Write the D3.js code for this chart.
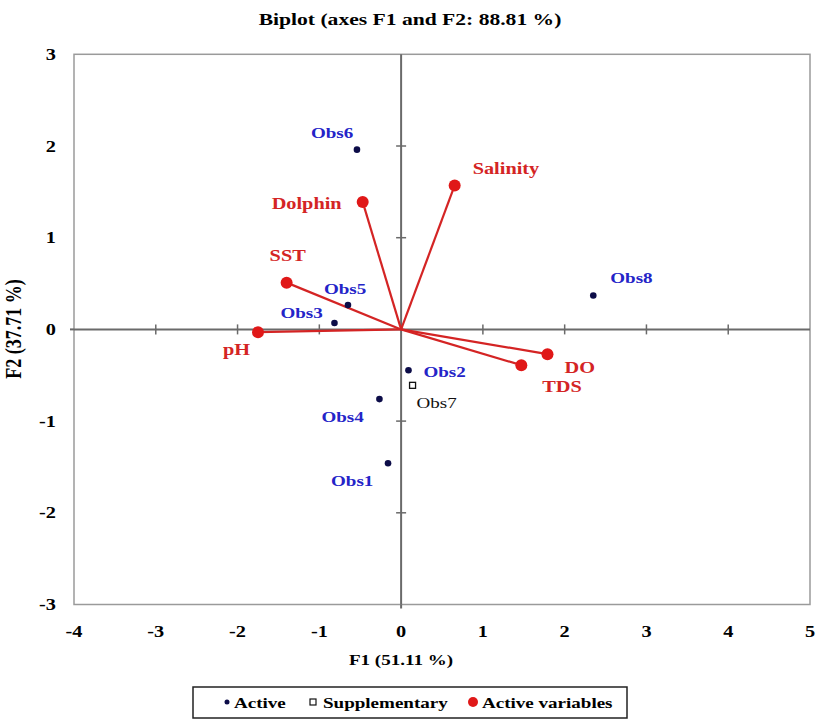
<!DOCTYPE html>
<html>
<head>
<meta charset="utf-8">
<script src="https://cdn.jsdelivr.net/npm/d3@7/dist/d3.min.js"></script>
<style>
  html, body { margin: 0; padding: 0; background: #fff; }
  svg { display: block; }
  text { font-family: "Liberation Serif", "Times New Roman", serif; }
</style>
</head>
<body>
<svg id="chart" width="819" height="720"></svg>
<script>
// ---- Data ----
const obsNames = ["Obs1", "Obs2", "Obs3", "Obs4", "Obs5", "Obs6", "Obs8"];
const obsF1    = [-0.16, 0.09, -0.815, -0.265, -0.65, -0.54, 2.35];
const obsF2    = [-1.46, -0.445, 0.07, -0.76, 0.265, 1.96, 0.37];

const suppNames = ["Obs7"];
const suppF1    = [0.14];
const suppF2    = [-0.61];

const varNames = ["Salinity", "Dolphin", "SST", "pH", "DO", "TDS"];
const varF1    = [0.655, -0.47, -1.40, -1.75, 1.79, 1.47];
const varF2    = [1.57, 1.39, 0.51, -0.03, -0.27, -0.39];

const xTickValues = [-4, -3, -2, -1, 0, 1, 2, 3, 4, 5];
const yTickValues = [-3, -2, -1, 0, 1, 2, 3];

const titleText = "Biplot (axes F1 and F2: 88.81 %)";
const xAxisTitle = "F1 (51.11 %)";
const yAxisTitle = "F2 (37.71 %)";
const legendLabels = ["Active", "Supplementary", "Active variables"];

// ---- Layout (label offsets in px, not data) ----
const obsLabelOffset = {
  Obs1: [-57, 23], Obs2: [15, 7], Obs3: [-54, -5], Obs4: [-58, 23],
  Obs5: [-24, -11], Obs6: [-46, -12], Obs8: [17, -12]
};
const suppLabelOffset = { Obs7: [4, 23] };
const varLabelOffset = {
  Salinity: [18, -11], Dolphin: [-91, 7], SST: [-17, -22],
  pH: [-35, 23], DO: [17, 19], TDS: [21, 27]
};

const STRETCH = 1.27;
const BLUE = "#2424c8", RED = "#d42424", NAVY = "#0c0c48", AXIS = "#6a6a6a", FRAME = "#9a9a9a";

const svg = d3.select("#chart");
const x = d3.scaleLinear().domain([-4, 5]).range([74, 810]);
const y = d3.scaleLinear().domain([-3, 3]).range([604.5, 54.3]);

function sText(parent, px, py, str, opts = {}) {
  return parent.append("text")
    .attr("transform", `translate(${px},${py}) scale(${STRETCH},1)` + (opts.rotate ? ` rotate(${opts.rotate})` : ""))
    .attr("text-anchor", opts.anchor || "start")
    .attr("font-size", opts.size || 15)
    .attr("font-weight", opts.weight || "bold")
    .attr("fill", opts.fill || "#000")
    .text(str);
}

// Frame
svg.append("rect")
  .attr("x", x(-4)).attr("y", y(3))
  .attr("width", x(5) - x(-4)).attr("height", y(-3) - y(3))
  .attr("fill", "none").attr("stroke", FRAME).attr("stroke-width", 1.5);

// Zero axes
svg.append("line").attr("x1", x(-4)).attr("x2", x(5)).attr("y1", y(0)).attr("y2", y(0))
  .attr("stroke", AXIS).attr("stroke-width", 2);
svg.append("line").attr("x1", x(0)).attr("x2", x(0)).attr("y1", y(3)).attr("y2", y(-3))
  .attr("stroke", AXIS).attr("stroke-width", 2);

// Cross ticks on zero axes
svg.append("g").selectAll("line")
  .data(xTickValues.filter(v => v > -4 && v < 5 && v !== 0))
  .join("line")
  .attr("x1", d => x(d)).attr("x2", d => x(d))
  .attr("y1", y(0) - 5).attr("y2", y(0) + 5)
  .attr("stroke", AXIS).attr("stroke-width", 1.5);
svg.append("g").selectAll("line")
  .data(yTickValues.filter(v => v > -3 && v < 3 && v !== 0))
  .join("line")
  .attr("y1", d => y(d)).attr("y2", d => y(d))
  .attr("x1", x(0) - 5).attr("x2", x(0) + 5)
  .attr("stroke", AXIS).attr("stroke-width", 1.5);
svg.append("line").attr("x1", x(-4) - 4).attr("x2", x(-4)).attr("y1", y(0)).attr("y2", y(0)).attr("stroke", AXIS).attr("stroke-width", 2);
svg.append("line").attr("x1", x(0)).attr("x2", x(0)).attr("y1", y(-3)).attr("y2", y(-3) + 4).attr("stroke", AXIS).attr("stroke-width", 2);

// Tick labels
const tl = svg.append("g");
xTickValues.forEach(v => sText(tl, x(v), 637, String(v), { anchor: "middle", size: 16 }));
yTickValues.forEach(v => sText(tl, 56, y(v) + 5.5, String(v), { anchor: "end", size: 16 }));

// Titles
sText(svg, 410, 25, titleText, { anchor: "middle", size: 17 });
sText(svg, 401, 665, xAxisTitle, { anchor: "middle", size: 15 });
sText(svg, 21, 329, yAxisTitle, { anchor: "middle", size: 18, rotate: -90 });

// Variable vectors
const vars = varNames.map((n, i) => ({ name: n, f1: varF1[i], f2: varF2[i] }));
svg.append("g").selectAll("line").data(vars).join("line")
  .attr("x1", x(0)).attr("y1", y(0))
  .attr("x2", d => x(d.f1)).attr("y2", d => y(d.f2))
  .attr("stroke", RED).attr("stroke-width", 2.2);
svg.append("g").selectAll("circle").data(vars).join("circle")
  .attr("cx", d => x(d.f1)).attr("cy", d => y(d.f2)).attr("r", 6)
  .attr("fill", "#e01818");
const vl = svg.append("g");
vars.forEach(d => {
  const o = varLabelOffset[d.name];
  sText(vl, x(d.f1) + o[0], y(d.f2) + o[1], d.name, { size: 16, fill: RED });
});

// Active observations
const obs = obsNames.map((n, i) => ({ name: n, f1: obsF1[i], f2: obsF2[i] }));
svg.append("g").selectAll("circle").data(obs).join("circle")
  .attr("cx", d => x(d.f1)).attr("cy", d => y(d.f2)).attr("r", 3.3)
  .attr("fill", NAVY);
const ol = svg.append("g");
obs.forEach(d => {
  const o = obsLabelOffset[d.name];
  sText(ol, x(d.f1) + o[0], y(d.f2) + o[1], d.name, { size: 15, fill: BLUE });
});

// Supplementary observations
const supp = suppNames.map((n, i) => ({ name: n, f1: suppF1[i], f2: suppF2[i] }));
svg.append("g").selectAll("rect").data(supp).join("rect")
  .attr("x", d => x(d.f1) - 3).attr("y", d => y(d.f2) - 3)
  .attr("width", 6).attr("height", 6)
  .attr("fill", "#fff").attr("stroke", "#111").attr("stroke-width", 1.3);
const sl = svg.append("g");
supp.forEach(d => {
  const o = suppLabelOffset[d.name];
  sText(sl, x(d.f1) + o[0], y(d.f2) + o[1], d.name, { size: 15, weight: "normal", fill: "#111" });
});

// Legend
const lg = svg.append("g");
lg.append("rect").attr("x", 193).attr("y", 687).attr("width", 434).attr("height", 31)
  .attr("fill", "#fff").attr("stroke", "#222").attr("stroke-width", 1.5);
lg.append("circle").attr("cx", 227).attr("cy", 702).attr("r", 2.5).attr("fill", NAVY);
sText(lg, 234, 708, legendLabels[0], { size: 15 });
lg.append("rect").attr("x", 310).attr("y", 699).attr("width", 6).attr("height", 6)
  .attr("fill", "#fff").attr("stroke", "#111").attr("stroke-width", 1.2);
sText(lg, 323, 708, legendLabels[1], { size: 15 });
lg.append("circle").attr("cx", 473).attr("cy", 702).attr("r", 5).attr("fill", "#e01818");
sText(lg, 482, 708, legendLabels[2], { size: 15 });
</script>
</body>
</html>
